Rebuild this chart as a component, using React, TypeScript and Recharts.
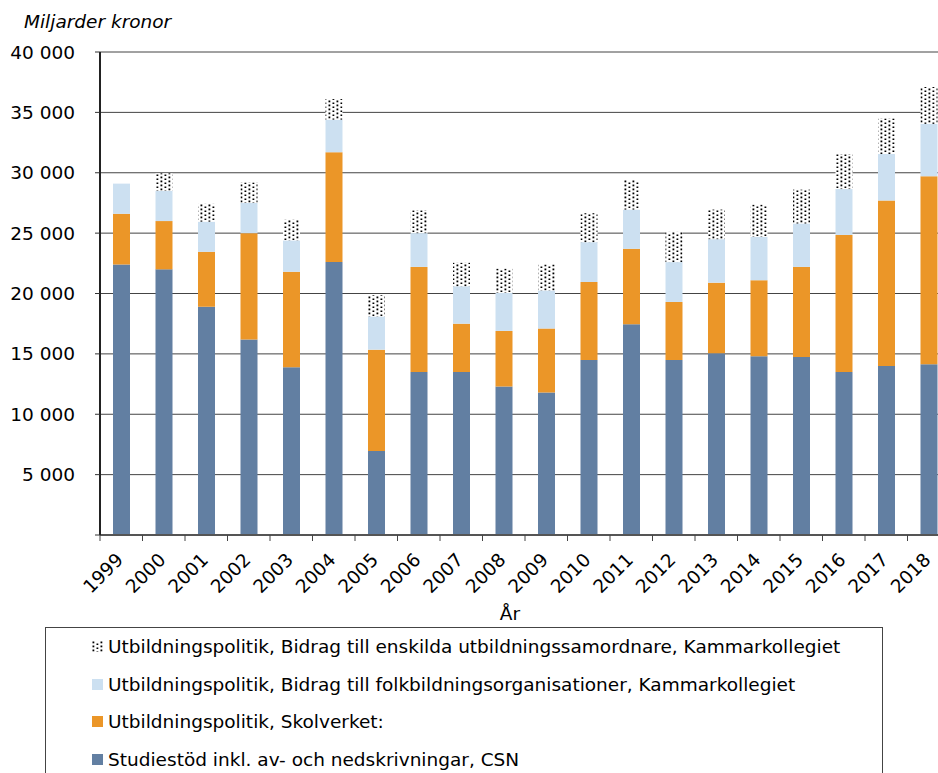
import React from 'react';
import { BarChart, Bar, XAxis, YAxis, CartesianGrid } from 'recharts';

const years = ['1999', '2000', '2001', '2002', '2003', '2004', '2005', '2006', '2007', '2008',
    '2009', '2010', '2011', '2012', '2013', '2014', '2015', '2016', '2017', '2018'];

// Studiestöd inkl. av- och nedskrivningar, CSN
const studiestod = [22400, 22000, 18900, 16200, 13900, 22600, 6950, 13500, 13500, 12300,
    11800, 14500, 17450, 14500, 15050, 14800, 14750, 13500, 14000, 14150];
// Utbildningspolitik, Skolverket
const skolverket = [4200, 4000, 4550, 8800, 7900, 9100, 8400, 8700, 4000, 4600,
    5300, 6450, 6250, 4800, 5850, 6300, 7450, 11350, 13700, 15550];
// Bidrag till folkbildningsorganisationer
const folkbildning = [2500, 2500, 2500, 2500, 2600, 2700, 2750, 2800, 3100, 3150,
    3150, 3300, 3250, 3300, 3600, 3600, 3600, 3800, 3850, 4350];
// Bidrag till enskilda utbildningssamordnare
const samordnare = [0, 1450, 1470, 1700, 1700, 1700, 1750, 1900, 1950, 2000,
    2150, 2400, 2450, 2500, 2450, 2650, 2800, 2900, 2950, 3050];

const yTicks = [0, 5000, 10000, 15000, 20000, 25000, 30000, 35000, 40000];

const seriesNames = {
    samordnare: 'Utbildningspolitik, Bidrag till enskilda utbildningssamordnare, Kammarkollegiet',
    folkbildning: 'Utbildningspolitik, Bidrag till folkbildningsorganisationer, Kammarkollegiet',
    skolverket: 'Utbildningspolitik, Skolverket:',
    studiestod: 'Studiestöd inkl. av- och nedskrivningar, CSN',
};

const BLUE = '#627fa2';
const ORANGE = '#eb9628';
const LIGHT = '#cce0f1';
const FONT = '"DejaVu Sans", sans-serif';

const CHART_W = 960;
const CHART_H = 773;
const Y_AXIS_W = 100;
const MARGIN = { top: 52, right: 10, left: 0, bottom: 178 };
const BAND = (CHART_W - Y_AXIS_W - MARGIN.left - MARGIN.right) / years.length;

const data = years.map((year, i) => ({
    year,
    studiestod: studiestod[i],
    skolverket: skolverket[i],
    folkbildning: folkbildning[i],
    samordnare: samordnare[i],
}));

const fmt = (v: number) => (v === 0 ? '' : String(v).replace(/\B(?=(\d{3})+(?!\d))/g, '\u00a0'));

const YearTick = (props: any) => {
    const { x, y, payload } = props;
    return (
        <g>
            <line x1={x - BAND / 2} x2={x - BAND / 2} y1={y} y2={y + 6} stroke="#444" strokeWidth={1} />
            <text
                transform={`translate(${x + 3},${y + 26}) rotate(-45)`}
                textAnchor="end"
                fontSize={18.5}
                fontFamily={FONT}
                fill="#000"
            >
                {payload.value}
            </text>
        </g>
    );
};

const DotPattern = ({ id }: { id: string }) => (
    <pattern id={id} width="8" height="4" patternUnits="userSpaceOnUse">
        <rect width="8" height="4" fill="#fff" />
        <rect x="0.5" y="0.5" width="1.8" height="1.8" fill="#000" />
        <rect x="4.5" y="2.5" width="1.8" height="1.8" fill="#000" />
    </pattern>
);

const legendItems = [
    { key: 'samordnare', fill: 'url(#dotsLegend)' },
    { key: 'folkbildning', fill: LIGHT },
    { key: 'skolverket', fill: ORANGE },
    { key: 'studiestod', fill: BLUE },
];

export default function App() {
    return (
        <div style={{ position: 'fixed', left: 0, top: 0, width: 938, height: 773, overflow: 'hidden', background: '#fff' }}>
            <BarChart width={CHART_W} height={CHART_H} data={data} margin={MARGIN} barSize={17}>
                <defs>
                    <DotPattern id="dots" />
                </defs>
                <CartesianGrid vertical={false} stroke="#444" strokeWidth={1} />
                <XAxis
                    dataKey="year"
                    height={60}
                    axisLine={{ stroke: '#555', strokeWidth: 2 }}
                    tickLine={false}
                    tickSize={0}
                    tickMargin={0}
                    interval={0}
                    tick={<YearTick />}
                    label={{
                        content: () => (
                            <text x={510} y={620} textAnchor="middle" fontSize={18.5} fontFamily={FONT} fill="#000">
                                År
                            </text>
                        ),
                    }}
                />
                <YAxis
                    width={Y_AXIS_W}
                    domain={[0, 40000]}
                    ticks={yTicks}
                    interval={0}
                    tickFormatter={fmt}
                    axisLine={{ stroke: '#222', strokeWidth: 2 }}
                    tickLine={{ stroke: '#333' }}
                    tickSize={5}
                    tickMargin={20}
                    tick={{ fontSize: 18.5, fontFamily: FONT, fill: '#000' }}
                    label={{
                        content: () => (
                            <text x={24} y={28} fontSize={18.5} fontStyle="italic" fontFamily={FONT} fill="#000">
                                Miljarder kronor
                            </text>
                        ),
                    }}
                />
                <Bar dataKey="studiestod" stackId="a" fill={BLUE} isAnimationActive={false} />
                <Bar dataKey="skolverket" stackId="a" fill={ORANGE} isAnimationActive={false} />
                <Bar dataKey="folkbildning" stackId="a" fill={LIGHT} isAnimationActive={false} />
                <Bar dataKey="samordnare" stackId="a" fill="url(#dots)" isAnimationActive={false} />
            </BarChart>

            {/* Legend */}
            <div style={{
                position: 'absolute',
                left: 45,
                top: 627,
                width: 836,
                height: 200,
                border: '1px solid #444',
                fontFamily: FONT,
                fontSize: 18.5,
                color: '#000',
            }}>
                {legendItems.map(item => (
                    <div key={item.key} style={{ height: 37.6, display: 'flex', alignItems: 'center' }}>
                        <svg width={11} height={11} style={{ marginLeft: 46, marginRight: 5, flexShrink: 0 }}>
                            <defs>
                                <DotPattern id="dotsLegend" />
                            </defs>
                            <rect width={11} height={11} fill={item.fill} />
                        </svg>
                        <span style={{ whiteSpace: 'nowrap' }}>{seriesNames[item.key as keyof typeof seriesNames]}</span>
                    </div>
                ))}
            </div>
        </div>
    );
}
